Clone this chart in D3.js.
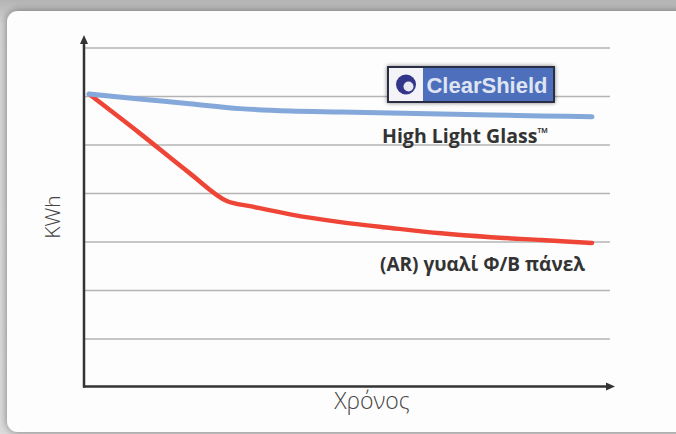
<!DOCTYPE html>
<html>
<head>
<meta charset="utf-8">
<title>KWh - Χρόνος</title>
<style>
  html, body { margin: 0; padding: 0; background: #fff; }
  svg { display: block; }
</style>
</head>
<body>
<svg id="chart"></svg>
<script src="https://cdn.jsdelivr.net/npm/d3@7"></script>
<script>
// time positions (arbitrary units along x)
var blueTime = [0, 1, 2, 3, 4, 5, 6, 7, 8, 9, 10];
var blueValues = [6.05, 5.95, 5.85, 5.75, 5.70, 5.68, 5.66, 5.64, 5.62, 5.60, 5.58];
var redTime = [0, 1, 2, 2.75, 3.2, 4, 5, 6, 7, 8, 9, 10];
var redValues = [6.05, 5.25, 4.42, 3.84, 3.74, 3.57, 3.41, 3.29, 3.18, 3.10, 3.04, 2.98];
var gridValues = [1, 2, 3, 4, 5, 6, 7];
var seriesLabels = ["High Light Glass", "(AR) γυαλί Φ/Β πάνελ"];

var width = 676, height = 434;
var svg = d3.select('#chart').attr('width', width).attr('height', height);
var defs = svg.append('defs');

// grey backdrop + white card
var bg = defs.append('linearGradient').attr('id', 'bg').attr('x1', 0).attr('y1', 0).attr('x2', 0).attr('y2', 1);
bg.append('stop').attr('offset', '0').attr('stop-color', '#b4b4b4');
bg.append('stop').attr('offset', '0.06').attr('stop-color', '#d6d6d6');
bg.append('stop').attr('offset', '1').attr('stop-color', '#dcdcdc');
svg.append('rect').attr('width', width).attr('height', height).attr('fill', 'url(#bg)');

var sh = defs.append('filter').attr('id', 'shadow').attr('x', '-10%').attr('y', '-10%').attr('width', '130%').attr('height', '130%');
sh.append('feGaussianBlur').attr('in', 'SourceAlpha').attr('stdDeviation', 4);
sh.append('feOffset').attr('dx', 0).attr('dy', 0).attr('result', 'b');
sh.append('feComponentTransfer').append('feFuncA').attr('type', 'linear').attr('slope', 0.45);
var m = sh.append('feMerge');
m.append('feMergeNode');
m.append('feMergeNode').attr('in', 'SourceGraphic');

svg.append('rect')
  .attr('x', 7).attr('y', 11).attr('width', 700).attr('height', 421)
  .attr('rx', 11).attr('ry', 11)
  .attr('fill', '#fdfdfd')
  .attr('filter', 'url(#shadow)');

var x = d3.scaleLinear().domain([0, 10]).range([89, 592]);
var y = d3.scaleLinear().domain([0, 7]).range([387.5, 48]);

// gridlines
svg.append('g').selectAll('line').data(gridValues).enter().append('line')
  .attr('x1', 84).attr('x2', 610)
  .attr('y1', function(d) { return y(d); })
  .attr('y2', function(d) { return y(d); })
  .attr('stroke', '#b4b4b4').attr('stroke-width', 1.5);

// axes with arrow heads
var axisColor = '#333';
svg.append('line').attr('x1', 84).attr('x2', 84).attr('y1', 42).attr('y2', 387.5)
  .attr('stroke', axisColor).attr('stroke-width', 2.5);
svg.append('path').attr('d', 'M84,35 L80,44 L88,44 Z').attr('fill', axisColor);
svg.append('line').attr('x1', 83).attr('x2', 609).attr('y1', 386.5).attr('y2', 386.5)
  .attr('stroke', axisColor).attr('stroke-width', 2.5);
svg.append('path').attr('d', 'M615,386.5 L606,382.5 L606,390.5 Z').attr('fill', axisColor);

// axis titles
svg.append('text')
  .attr('transform', 'translate(60,217) rotate(-90)')
  .attr('text-anchor', 'middle')
  .style('font-family', '"Open Sans", sans-serif').style('font-weight', 300)
  .style('font-size', '21px').attr('fill', '#444')
  .text('KWh');
svg.append('text')
  .attr('x', 372).attr('y', 409)
  .attr('text-anchor', 'middle')
  .style('font-family', '"Open Sans", sans-serif').style('font-weight', 300)
  .style('font-size', '23px').attr('fill', '#444')
  .text('Χρόνος');

// series lines
var line = d3.line()
  .x(function(d) { return x(d[0]); })
  .y(function(d) { return y(d[1]); })
  .curve(d3.curveMonotoneX);

svg.append('path')
  .datum(d3.zip(redTime, redValues))
  .attr('d', line)
  .attr('fill', 'none').attr('stroke', '#ee4536').attr('stroke-width', 4.5)
  .attr('stroke-linecap', 'round');
svg.append('path')
  .datum(d3.zip(blueTime, blueValues))
  .attr('d', line)
  .attr('fill', 'none').attr('stroke', '#84a8da').attr('stroke-width', 5)
  .attr('stroke-linecap', 'round');

// ClearShield badge
var badge = svg.append('g').attr('transform', 'translate(387,66)');
var bsh = defs.append('filter').attr('id', 'bshadow').attr('x', '-10%').attr('y', '-20%').attr('width', '130%').attr('height', '160%');
bsh.append('feGaussianBlur').attr('in', 'SourceAlpha').attr('stdDeviation', 2);
bsh.append('feComponentTransfer').append('feFuncA').attr('type', 'linear').attr('slope', 0.5);
var bm = bsh.append('feMerge');
bm.append('feMergeNode');
bm.append('feMergeNode').attr('in', 'SourceGraphic');
badge.append('rect').attr('width', 168).attr('height', 37).attr('fill', '#2a2f45')
  .attr('filter', 'url(#bshadow)');
badge.append('rect').attr('x', 2).attr('y', 2).attr('width', 34).attr('height', 33).attr('fill', '#f4f4f8');
badge.append('rect').attr('x', 36).attr('y', 2).attr('width', 130).attr('height', 33).attr('fill', '#4d6fbc');
badge.append('circle').attr('cx', 19).attr('cy', 18.5).attr('r', 10).attr('fill', '#33358a');
badge.append('circle').attr('cx', 21.5).attr('cy', 20.5).attr('r', 5).attr('fill', '#e8e8f2');
badge.append('text').attr('x', 100).attr('y', 27).attr('text-anchor', 'middle')
  .style('font-family', '"Liberation Sans", Arial, sans-serif').style('font-weight', 700)
  .style('font-size', '22px').attr('fill', '#dfe4f2')
  .text('ClearShield');

// series labels
var hl = svg.append('text').attr('x', 382).attr('y', 143)
  .style('font-family', '"Open Sans", sans-serif').style('font-weight', 700)
  .style('font-size', '19.5px').attr('fill', '#333');
hl.append('tspan').text(seriesLabels[0]);
hl.append('tspan').attr('dy', -5).style('font-size', '14px').text('\u2122');
svg.append('text').attr('x', 380).attr('y', 271)
  .style('font-family', '"Open Sans", sans-serif').style('font-weight', 700)
  .style('font-size', '19px').attr('fill', '#333')
  .text(seriesLabels[1]);
</script>
</body>
</html>
